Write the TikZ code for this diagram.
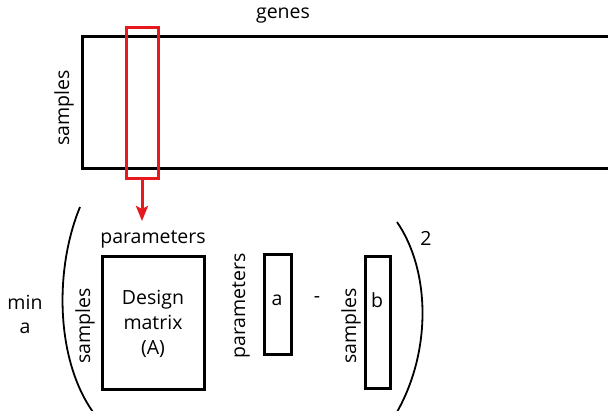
\documentclass[tikz,border=0pt]{standalone}
\usepackage{fontspec}
\setmainfont{Open Sans}
\usetikzlibrary{arrows.meta}
\definecolor{redline}{HTML}{E8191E}
\begin{document}
\begin{tikzpicture}[x=1pt,y=-1pt,
  lbl/.style={inner sep=0pt,font=\fontsize{19.5}{25}\selectfont},
  mat/.style={draw=black,line width=3pt,inner sep=0pt},
  paren/.style={draw=black,line width=1.8pt}]
\useasboundingbox (0,0) rectangle (608,411);
\clip (0,0) rectangle (608,411);
% top matrix
\draw[mat] (82,37) rectangle (640,169);
\node[lbl] (genes) at (283,16) {genes};
\node[lbl,rotate=90] (samp1) at (64,108) {samples};
\node[draw=redline,line width=3pt,minimum width=32pt,minimum height=151pt,inner sep=0pt] (sel) at (142,103.5) {};
\coordinate (tip) at (142,221);
\draw[redline,line width=3pt,-{Stealth[length=15pt,width=12pt,inset=3pt]}] (sel.south) -- (tip);
% bottom equation
\node[lbl] (min) at (25,302) {min};
\node[lbl] (mina) at (25,328) {a};
\coordinate (lpt) at (80,207);
\coordinate (lpb) at (93,412);
\draw[paren] (lpt) .. controls (54,270) and (56,360) .. (lpb);
\coordinate (rpt) at (397,222);
\coordinate (rpb) at (397,412);
\draw[paren] (rpt) .. controls (430,270) and (432,350) .. (rpb);
\node[lbl] (two) at (426,238) {2};
\node[lbl] (params1) at (153,239) {parameters};
\node[mat,minimum width=102pt,minimum height=133pt] (A) at (153,323.5) {};
\node[lbl,align=center] (Atext) at (A.center) {Design\\matrix\\(A)};
\node[lbl,rotate=90] (samp2) at (85,326) {samples};
\node[lbl,rotate=90] (params2) at (241,306) {parameters};
\node[mat,minimum width=27pt,minimum height=100pt] (avec) at (277.5,305) {};
\node[lbl] (atext) at (277,300) {a};
\node[lbl] (minus) at (317,300) {-};
\node[lbl,rotate=90] (samp3) at (351,326) {samples};
\node[mat,minimum width=25pt,minimum height=132pt] (bvec) at (377.5,323) {};
\node[lbl] (btext) at (377,300) {b};
\end{tikzpicture}
\end{document}
